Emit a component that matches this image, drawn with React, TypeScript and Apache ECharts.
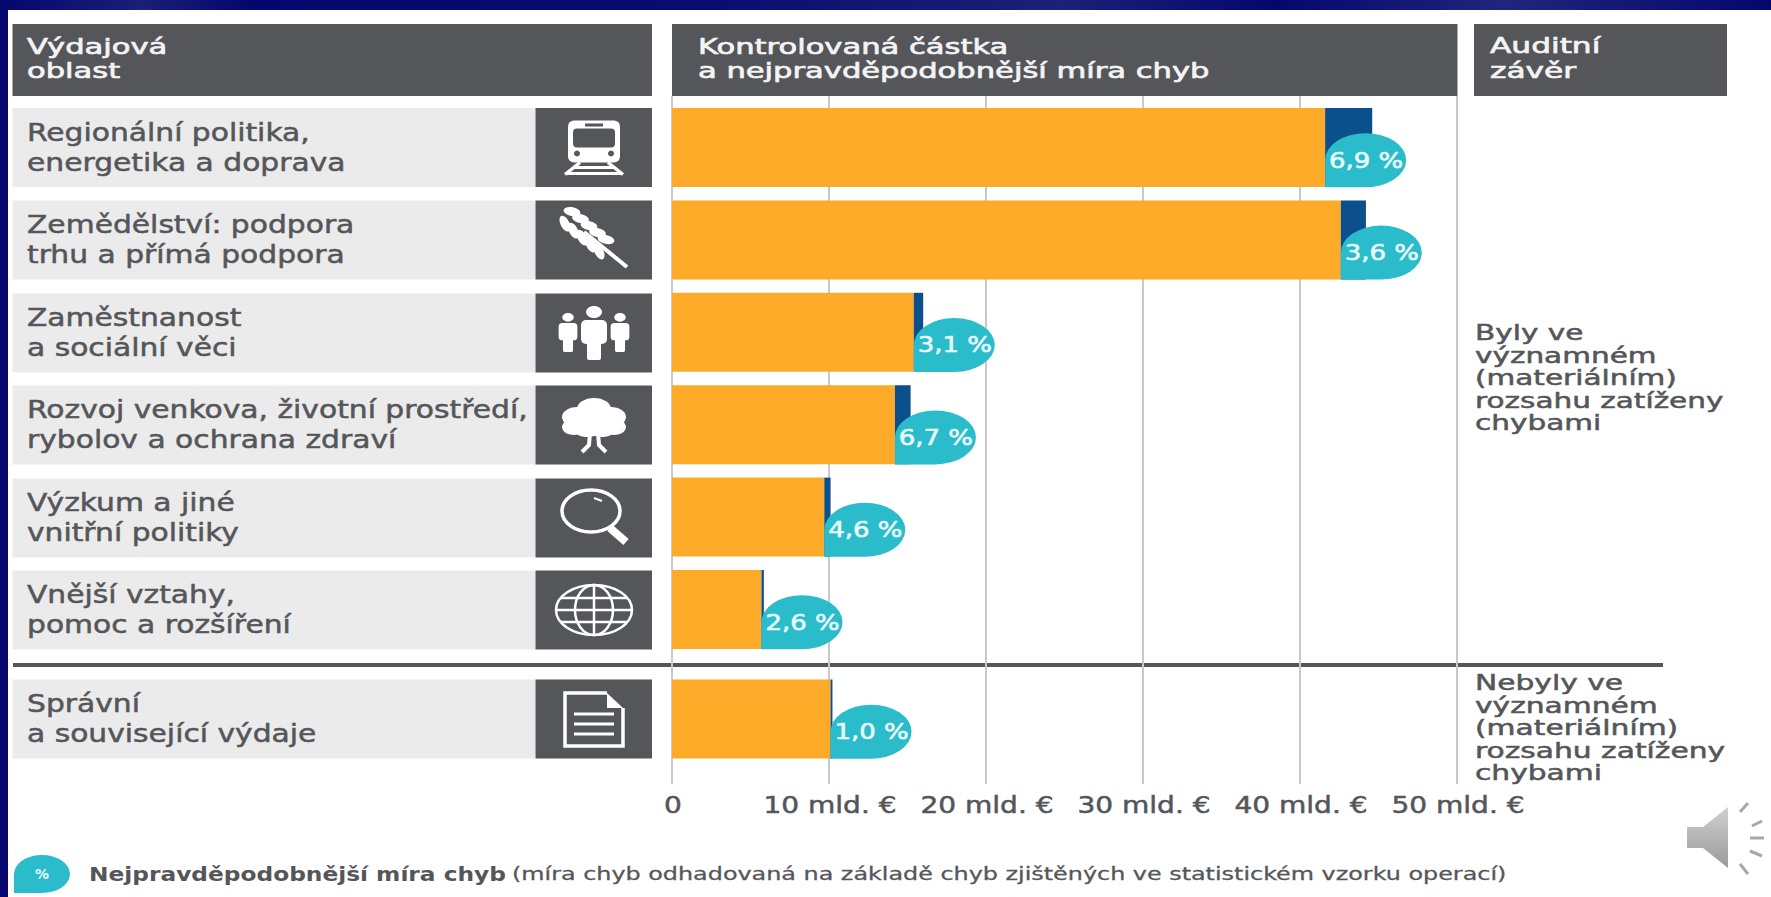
import React, { useEffect, useRef } from "react";
import * as echarts from "echarts";

const categoriesMain = [
  "Regionální politika,\nenergetika a doprava",
  "Zemědělství: podpora\ntrhu a přímá podpora",
  "Zaměstnanost\na sociální věci",
  "Rozvoj venkova, životní prostředí,\nrybolov a ochrana zdraví",
  "Výzkum a jiné\nvnitřní politiky",
  "Vnější vztahy,\npomoc a rozšíření",
];
const categoriesAdmin = ["Správní\na související výdaje"];
const auditedMain = [41.6, 42.6, 15.4, 14.2, 9.7, 5.7];
const extraMain = [3.0, 1.6, 0.6, 1.0, 0.4, 0.15];
const errorMain = ["6,9 %", "3,6 %", "3,1 %", "6,7 %", "4,6 %", "2,6 %"];
const auditedAdmin = [10.1];
const extraAdmin = [0.12];
const errorAdmin = ["1,0 %"];
const xTicks = [0, 10, 20, 30, 40, 50];
const xTickLabels = ["0", "10 mld. €", "20 mld. €", "30 mld. €", "40 mld. €", "50 mld. €"];

const FONT = "'DejaVu Sans'";
const DARK = "#55565a";
const TEXT = "#55565a";
const ORANGE = "#fdaa29";
const BLUE = "#0b4f8c";
const TEAL = "#2bbccb";
const GREY = "#ebebeb";
const ROW_CY = [147.5, 240, 333, 425, 518, 610, 719];
const X0 = 672;
const XW = 785;

const DROP = "M0 54 L0 27 A40.5 27 0 0 1 81 27 A40.5 27 0 0 1 40.5 54 Z";
echarts.graphic.registerShape("dropShape", echarts.graphic.extendPath(DROP, {}) as any);

const R = (x: number, y: number, w: number, h: number, fill: string, r = 0) => ({
  type: "rect", shape: { x, y, width: w, height: h, r }, style: { fill },
});
const C = (cx: number, cy: number, rr: number, fill: string) => ({
  type: "circle", shape: { cx, cy, r: rr }, style: { fill },
});
const E = (cx: number, cy: number, rx: number, ry: number, fill: string | null, stroke?: string, lw = 0, rotation = 0) => ({
  type: "ellipse", x: cx, y: cy, rotation, shape: { cx: 0, cy: 0, rx, ry },
  style: { fill: fill ?? "none", stroke: stroke ?? "none", lineWidth: lw },
});
const L = (x1: number, y1: number, x2: number, y2: number, lw: number, stroke = "#fff") => ({
  type: "line", shape: { x1, y1, x2, y2 }, style: { stroke, lineWidth: lw },
});
const W = "#ffffff";

function person(x: number, top: number, s: number) {
  return [
    E(x, top + 6 * s, 8 * s, 6 * s, W),
    R(x - 13 * s, top + 14 * s, 26 * s, 24 * s, W, 5 * s),
    R(x - 7 * s, top + 30 * s, 14 * s, 24 * s, W, 2 * s),
  ];
}

const wheat = () => {
  const out: any[] = [L(-10, -8, 33, 27, 4)];
  for (let i = 0; i < 5; i++) {
    const t = -26 + i * 8.5;
    const y = t * 0.82 - 1;
    out.push(E(t + 4, y - 6, 8.5, 4.4, W, undefined, 0, -0.2));
    out.push(E(t - 3, y + 6, 8.5, 4.4, W, undefined, 0, -1.1));
  }
  return out;
};

const icons: any[][] = [
  // train
  [
    R(-26, -27, 52, 42, W, 6), R(-21, -19, 42, 19, DARK, 4), R(-9, -24, 18, 3, DARK),
    C(-17, 6, 3, DARK), C(17, 6, 3, DARK),
    L(-14, 15, -29, 27, 3.5), L(14, 15, 29, 27, 3.5), L(-20, 20, 20, 20, 3), L(-28, 26, 28, 26, 3),
  ],
  wheat(),
  // people
  [...person(0, -27, 1), ...person(-26, -20, 0.72), ...person(26, -20, 0.72)],
  // tree
  [
    E(0, -16, 17, 11, W), E(-17, -8, 15, 10, W), E(17, -8, 15, 10, W), E(-20, 2, 12, 8, W), E(20, 2, 12, 8, W),
    E(0, -2, 22, 13, W), E(-7, 7, 11, 5, W), E(8, 7, 11, 5, W),
    { type: "polyline", shape: { points: [[-4, 8], [-5, 20], [-12, 27]] }, style: { stroke: W, lineWidth: 4, fill: "none" } },
    { type: "polyline", shape: { points: [[4, 8], [5, 20], [12, 27]] }, style: { stroke: W, lineWidth: 4, fill: "none" } },
  ],
  // magnifier
  [E(-3, -7, 29, 21, null, W, 3.5), L(16, 10, 32, 24, 8), L(0, -20, 8, -17, 2)],
  // globe
  [
    E(0, 0, 38, 25, null, W, 2.5), E(0, 0, 19, 25, null, W, 2.5), L(0, -25, 0, 25, 2.5), L(-38, 0, 38, 0, 2.5),
    L(-33, -12, 33, -12, 2.5), L(-33, 12, 33, 12, 2.5),
  ],
  // document
  [
    { type: "polygon", shape: { points: [[13, -26], [29, -11], [13, -11]] }, style: { fill: W } },
    { type: "polyline", shape: { points: [[13, -26], [-29, -26], [-29, 27], [29, 27], [29, -11]] }, style: { stroke: W, lineWidth: 3.5, fill: "none" } },
    L(-20, -5, 20, -5, 3), L(-20, 5, 20, 5, 3), L(-20, 15, 20, 15, 3),
  ],
];

const txt = (text: string, x: number, y: number, size: number, lineHeight: number, fill: string, scaleX: number, weight = "normal", sw = 0.5) => ({
  type: "text", x, y, scaleX,
  style: { text, fontFamily: FONT, fontSize: size, fontWeight: weight, lineHeight, fill, stroke: fill, lineWidth: sw, verticalAlign: "middle", align: "left" },
});

const dropRender = (labels: string[]) => (params: any, api: any) => {
  const p = api.coord([api.value(0), api.value(1)]);
  const band = api.size([0, 1])[1];
  const bottom = p[1] + band / 2 - 6.5;
  return {
    type: "group",
    children: [
      { type: "path", shape: { pathData: DROP, x: p[0], y: bottom - 54, width: 81, height: 54 }, style: { fill: TEAL } },
      {
        type: "text", x: p[0] + 41, y: bottom - 27, scaleX: 1.18,
        style: {
          text: labels[params.dataIndex], fill: "#e9fbfd", stroke: "#e9fbfd", lineWidth: 0.6,
          fontFamily: FONT, fontSize: 22, align: "center", verticalAlign: "middle",
        },
      },
    ],
  };
};

const rowLabelRender = (labels: string[]) => (params: any, api: any) => {
  const p = api.coord([0, api.value(1)]);
  return txt(labels[params.dataIndex], 27, p[1], 24, 30, TEXT, 1.24);
};

const tickLabelRender = (params: any, api: any) => {
  const p = api.coord([api.value(0), 0]);
  return {
    type: "text", x: p[0] + 1, y: p[1] + 21, scaleX: 1.22,
    style: { text: xTickLabels[params.dataIndex], fill: TEXT, stroke: TEXT, lineWidth: 0.5, fontFamily: FONT, fontSize: 23, align: "center", verticalAlign: "middle" },
  };
};

export default function App() {
  const ref = useRef<HTMLDivElement>(null);
  useEffect(() => {
    document.body.style.margin = "0";
    const chart = echarts.init(ref.current!, undefined, { renderer: "svg" });
    const graphics: any[] = [
      R(12.5, 24, 639.5, 72, DARK), R(672, 24, 785.5, 72, DARK), R(1474, 24, 253, 72, DARK),
      ...ROW_CY.map((cy) => R(12.5, cy - 39.5, 523, 79, GREY)),
      ...ROW_CY.map((cy) => R(535.5, cy - 39.5, 116.5, 79, DARK)),
      ...icons.map((children, i) => ({ type: "group", x: 594, y: ROW_CY[i], children })),
      R(13, 663, 1650, 4, DARK),
      txt("Výdajová\noblast", 27, 58, 22, 24.5, "#f4f4f4", 1.39, "normal", 0.7),
      txt("Kontrolovaná částka\na nejpravděpodobnější míra chyb", 698, 58, 22, 24.5, "#f4f4f4", 1.39, "normal", 0.7),
      txt("Auditní\nzávěr", 1490, 58, 22, 24.5, "#f4f4f4", 1.42, "normal", 0.7),
      txt("Byly ve\nvýznamném\n(materiálním)\nrozsahu zatíženy\nchybami", 1475, 378, 20.5, 22.4, TEXT, 1.44),
      txt("Nebyly ve\nvýznamném\n(materiálním)\nrozsahu zatíženy\nchybami", 1475, 728, 20.5, 22.4, TEXT, 1.45),
      { type: "group", x: 14, y: 855, scaleX: 56 / 81, scaleY: 38 / 54, children: [{ type: "dropShape", style: { fill: TEAL } }] },
      { type: "text", x: 42, y: 874, style: { text: "%", fill: "#e9fbfd", fontFamily: FONT, fontSize: 14, fontWeight: "bold", align: "center", verticalAlign: "middle" } },
      txt("Nejpravděpodobnější míra chyb", 89, 874, 20, 24, TEXT, 1.165, "bold", 0),
      txt("(míra chyb odhadovaná na základě chyb zjištěných ve statistickém vzorku operací)", 512, 874, 18.5, 24, TEXT, 1.29, "normal", 0.3),
      {
        type: "polygon",
        shape: { points: [[1687, 827], [1703, 827], [1728, 807], [1728, 868], [1703, 848], [1687, 848]] },
        style: { fill: new echarts.graphic.LinearGradient(0, 0, 0, 1, [{ offset: 0, color: "#d0d0d0" }, { offset: 1, color: "#9a9a9a" }]) },
      },
      L(1740, 812, 1748, 803, 3, "#a8a8a8"), L(1752, 826, 1762, 821, 3, "#a8a8a8"), L(1750, 838, 1764, 838, 3, "#a8a8a8"),
      L(1750, 851, 1762, 856, 3, "#a8a8a8"), L(1740, 864, 1748, 874, 3, "#a8a8a8"),
    ];
    const barBase = { type: "bar", stack: "s", barWidth: 79, silent: true };
    const customBase = { type: "custom", silent: true, clip: false, encode: { x: 0, y: 1 } };
    chart.setOption({
      animation: false,
      backgroundColor: "transparent",
      graphic: { z: 10, elements: graphics },
      grid: [
        { left: X0, width: XW, top: 101.3, height: 554.4 },
        { left: X0, width: XW, top: 672.8, height: 92.4 },
        { left: X0, width: XW, top: 96, height: 688 },
      ],
      xAxis: [
        { gridIndex: 0, type: "value", min: 0, max: 50, show: false },
        { gridIndex: 1, type: "value", min: 0, max: 50, show: false },
        {
          gridIndex: 2, type: "value", min: 0, max: 50, interval: 10, position: "bottom",
          axisLine: { show: false }, axisTick: { show: false },
          splitLine: { show: true, showMinLine: true, showMaxLine: true, lineStyle: { color: "#c9c9c9", width: 2 } },
          axisLabel: { show: false },
        },
      ],
      yAxis: [
        { gridIndex: 0, type: "category", inverse: true, data: categoriesMain, axisLine: { show: false }, axisTick: { show: false }, axisLabel: { show: false } },
        { gridIndex: 1, type: "category", inverse: true, data: categoriesAdmin, axisLine: { show: false }, axisTick: { show: false }, axisLabel: { show: false } },
        { gridIndex: 2, type: "value", min: 0, max: 1, show: false },
      ],
      series: [
        { ...barBase, name: "Kontrolovaná částka", xAxisIndex: 0, yAxisIndex: 0, data: auditedMain, itemStyle: { color: ORANGE } },
        { ...barBase, name: "Míra", xAxisIndex: 0, yAxisIndex: 0, data: extraMain, itemStyle: { color: BLUE } },
        { ...barBase, stack: "a", name: "Kontrolovaná částka 2", xAxisIndex: 1, yAxisIndex: 1, data: auditedAdmin, itemStyle: { color: ORANGE } },
        { ...barBase, stack: "a", name: "Míra 2", xAxisIndex: 1, yAxisIndex: 1, data: extraAdmin, itemStyle: { color: BLUE } },
        { ...customBase, xAxisIndex: 0, yAxisIndex: 0, z: 3, data: auditedMain.map((v, i) => [v, i]), renderItem: dropRender(errorMain) },
        { ...customBase, xAxisIndex: 1, yAxisIndex: 1, z: 3, data: auditedAdmin.map((v, i) => [v, i]), renderItem: dropRender(errorAdmin) },
        { ...customBase, xAxisIndex: 0, yAxisIndex: 0, z: 20, data: categoriesMain.map((_, i) => [0, i]), renderItem: rowLabelRender(categoriesMain) },
        { ...customBase, xAxisIndex: 1, yAxisIndex: 1, z: 20, data: categoriesAdmin.map((_, i) => [0, i]), renderItem: rowLabelRender(categoriesAdmin) },
        { ...customBase, xAxisIndex: 2, yAxisIndex: 2, z: 20, data: xTicks.map((v) => [v, 0]), renderItem: tickLabelRender },
      ],
    });
    return () => chart.dispose();
  }, []);
  return (
    <div style={{ position: "absolute", left: 0, top: 0, width: 1771, height: 897, overflow: "hidden", background: "linear-gradient(90deg,#05076e 0%,#1a1f78 8%,#05076e 14%,#0a0c70 40%,#1c2078 60%,#05076e 72%,#20257c 85%,#05076e 100%)" }}>
      <div style={{ position: "absolute", left: 8, top: 10, right: 0, bottom: 0, background: "#fff" }} />
      <div ref={ref} style={{ position: "absolute", left: 0, top: 0, width: 1771, height: 897 }} />
    </div>
  );
}
